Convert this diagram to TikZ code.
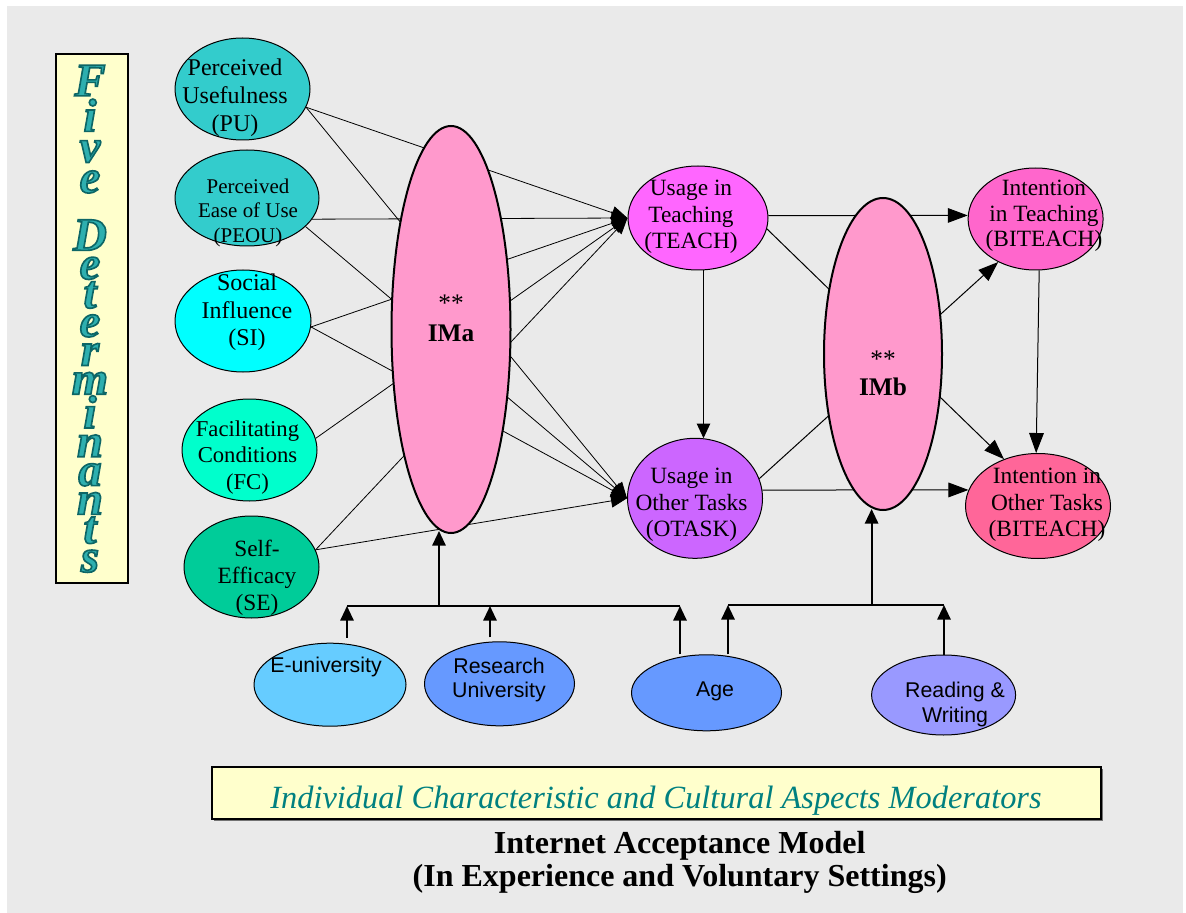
\documentclass[tikz,border=0pt]{standalone}
\usepackage{fontspec}
\setmainfont{Liberation Serif}
\newfontfamily\sansf{Liberation Sans}
\newfontfamily\wafont{Liberation Serif}[BoldItalicFeatures={FakeBold=3.5}]
\usetikzlibrary{shapes.geometric,arrows.meta,calc}
\definecolor{bgGray}{HTML}{EAEAEA}
\definecolor{paleYellow}{HTML}{FFFFCC}
\definecolor{cPU}{HTML}{33CCCC}
\definecolor{cSI}{HTML}{00FFFF}
\definecolor{cFC}{HTML}{00FFCC}
\definecolor{cSE}{HTML}{00CC99}
\definecolor{cIM}{HTML}{FF99CC}
\definecolor{cTEACH}{HTML}{FF66FF}
\definecolor{cOTASK}{HTML}{CC66FF}
\definecolor{cBIone}{HTML}{FF66CC}
\definecolor{cBItwo}{HTML}{FF6699}
\definecolor{cEuni}{HTML}{66CCFF}
\definecolor{cRes}{HTML}{6699FF}
\definecolor{cRead}{HTML}{9999FF}
\definecolor{waFill}{HTML}{2EAFAF}
\definecolor{tealText}{HTML}{008080}
\def\pxu{0.75pt}
% outlined letters: dark teal stroke around a teal fill
\newcommand\wl[1]{\special{pdf:literal direct 0.05 0.40 0.40 RG}#1}
\pgfdeclarelayer{back}
\pgfdeclarelayer{wires}
\pgfsetlayers{back,wires,main}
\begin{document}
\begin{tikzpicture}[x=0.75pt,y=-0.75pt,
  ell/.style 2 args={ellipse, draw, line width=0.75pt, inner sep=0pt,
    minimum width=#1*\pxu, minimum height=#2*\pxu},
  imell/.style 2 args={ell={#1}{#2}, line width=1.5pt, fill=cIM},
  dtxt/.style={align=center, inner sep=0pt},
  stxt/.style={align=center, inner sep=0pt, font=\fontsize{16}{18.3}\selectfont\sansf},
  wa/.style={inner sep=0pt, align=center, text=waFill,
    font=\fontsize{35}{21.6}\selectfont\wafont\bfseries\itshape},
  sarr/.style={line width=0.6pt, -{Triangle[length=12pt,width=10pt]}},
  barr/.style={line width=0.75pt, -{Triangle[length=15pt,width=11pt]}},
  marr/.style={line width=1.1pt, -{Triangle[length=11pt,width=10pt]}},
  modline/.style={line width=1.5pt},
  modarr/.style={line width=1.5pt, -{Triangle[length=11pt,width=10pt]}}]

\begin{pgfonlayer}{back}
  \fill[white] (0,0) rectangle (1186,913);
  \fill[bgGray] (7,6) rectangle (1183,913);
  \fill[black!55] (213.5,769) rectangle (1102.5,821);
\end{pgfonlayer}
\useasboundingbox (0,0) rectangle (1186,913);

% ---- side panel ----
\node[draw, line width=1.5pt, fill=paleYellow, inner sep=0pt,
  minimum width=72*\pxu, minimum height=529*\pxu] (FD) at (91.5,318.5) {};
\node[wa, anchor=north] (FDtxt) at (90,65)
  {\wl{F}\\[1.4pt]\wl{i}\\[1.4pt]\wl{v}\\[1.4pt]\wl{e}\\[18.9pt]%
   \wl{D}\\\wl{e}\\\wl{t}\\\wl{e}\\\wl{r}\\\wl{m}\\\wl{i}\\\wl{n}\\\wl{a}\\\wl{n}\\\wl{t}\\\wl{s}};

% ---- determinants ----
\node[ell={135}{102}, fill=cPU] (PU) at (242.5,89) {};
\node[dtxt, font=\fontsize{18}{21}\selectfont] (PUtxt) at (235,98) {Perceived\\Usefulness\\(PU)};
\node[ell={144}{96}, fill=cPU] (PEOU) at (247,198) {};
\node[dtxt, font=\fontsize{15.7}{18.4}\selectfont] (PEOUtxt) at (248,212.5) {Perceived\\Ease of Use\\(PEOU)};
\node[ell={136}{102}, fill=cSI] (SI) at (243,321) {};
\node[dtxt, font=\fontsize{18}{20.5}\selectfont] (SItxt) at (247,312.5) {Social\\Influence\\(SI)};
\node[ell={135}{102}, fill=cFC] (FC) at (249.5,450) {};
\node[dtxt, font=\fontsize{17}{20}\selectfont] (FCtxt) at (247.5,457.5) {Facilitating\\Conditions\\(FC)};
\node[ell={135}{102}, fill=cSE] (SE) at (251.5,567) {};
\node[dtxt, font=\fontsize{17.5}{20.3}\selectfont] (SEtxt) at (257,577.5) {Self-\\Efficacy\\(SE)};

% ---- mediators ----
\node[imell={119}{407}] (IMa) at (451,329.5) {};
\node[anchor=base, inner sep=0pt, font=\fontsize{19}{20}\selectfont] (IMastar) at (451,311) {**};
\node[anchor=base, inner sep=0pt, font=\fontsize{19}{21}\selectfont\bfseries] (IMalbl) at (451,341.5) {IMa};
\node[imell={118}{312}] (IMb) at (883,354) {};
\node[anchor=base, inner sep=0pt, font=\fontsize{19}{20}\selectfont] (IMbstar) at (883,367) {**};
\node[anchor=base, inner sep=0pt, font=\fontsize{19}{21}\selectfont\bfseries] (IMblbl) at (883,395) {IMb};

% ---- usage and intention ----
\node[ell={140}{104}, fill=cTEACH] (TEACH) at (698,218) {};
\node[dtxt, font=\fontsize{17.5}{19.8}\selectfont] (TEACHtxt) at (691,217) {Usage in\\Teaching\\(TEACH)};
\node[ell={135}{120}, fill=cOTASK] (OTASK) at (695,498.3) {};
\node[dtxt, font=\fontsize{17.5}{20}\selectfont] (OTASKtxt) at (691.5,505) {Usage in\\Other Tasks\\(OTASK)};
\node[ell={135}{102}, fill=cBIone] (BI1) at (1035.6,219) {};
\node[dtxt, font=\fontsize{17.5}{19.2}\selectfont] (BI1txt) at (1044,216) {Intention\\in Teaching\\(BITEACH)};
\node[ell={145}{105}, fill=cBItwo] (BI2) at (1038,506) {};
\node[dtxt, font=\fontsize{17.5}{20}\selectfont] (BI2txt) at (1047,505) {Intention in\\Other Tasks\\(BITEACH)};

% ---- moderators ----
\node[ell={152}{83}, fill=cEuni] (Euni) at (330,684.7) {};
\node[stxt] (Eunitxt) at (326,667) {E-university};
\node[ell={150}{84}, fill=cRes] (Rsch) at (499.5,683.8) {};
\node[stxt] (Rschtxt) at (499,680) {Research\\University};
\node[ell={150}{76}, fill=cRes] (Age) at (706.5,692.8) {};
\node[stxt] (Agetxt) at (715,691.7) {Age};
\node[ell={144}{80}, fill=cRead] (Read) at (943.6,695) {};
\node[stxt] (Readtxt) at (955,704.5) {Reading \&\\Writing};

% ---- captions ----
\node[draw, line width=1.5pt, fill=paleYellow, inner sep=0pt,
  minimum width=889*\pxu, minimum height=52*\pxu] (MODbox) at (656.25,793.3) {};
\node[anchor=base, inner sep=0pt, text=tealText,
  font=\fontsize{24.3}{28}\selectfont\itshape] (MODtxt) at (656,808)
  {Individual Characteristic and Cultural Aspects Moderators};
\node[anchor=base, inner sep=0pt, font=\fontsize{24}{28}\selectfont\bfseries] (title1) at (679.7,853) {Internet Acceptance Model};
\node[anchor=base, inner sep=0pt, font=\fontsize{24}{28}\selectfont\bfseries] (title2) at (679.7,886.7) {(In Experience and Voluntary Settings)};

% ---- connectors (under the nodes) ----
\begin{pgfonlayer}{wires}
  \draw[sarr] (PU.-16) -- (TEACH.west);
  \draw[sarr] (PU.-16) -- (OTASK.west);
  \draw[sarr] (PEOU.-18) -- (TEACH.west);
  \draw[sarr] (PEOU.-26) -- (OTASK.west);
  \draw[sarr] (SI.-5) -- (TEACH.west);
  \draw[sarr] (SI.-5) -- (OTASK.west);
  \draw[sarr] (FC.10) -- (TEACH.west);
  \draw[sarr] (SE.15) -- (TEACH.west);
  \draw[sarr] (SE.15) -- (OTASK.west);

  \draw[barr] (TEACH.2) -- (BI1.177);
  \draw[barr] (TEACH.-9) -- (BI2.126);
  \draw[barr] (OTASK.17) -- (BI1.229);
  \draw[barr] (OTASK.7) -- (BI2.167);
  \draw[barr] (BI1.-86) -- (BI2.92);
  \draw[marr] (TEACH.-84) -- (TEACH.-84 |- OTASK.82);

  \coordinate (mL1) at (347,606);
  \coordinate (mL3) at (490,606);
  \coordinate (mL2) at (680,606);
  \coordinate (mLj) at (439,606);
  \coordinate (mR1) at (728,605);
  \coordinate (mR2) at (944,605);
  \coordinate (mRj) at (871.6,605);
  \draw[modline] (mL1) -- (mL2);
  \draw[modline] (mR1) -- (mR2);
  \draw[modarr] (mLj) -- ($(mLj |- IMa.south)+(0,-3)$);
  \draw[modarr] (mRj) -- ($(mRj |- IMb.south)+(0,-2)$);
  \draw[modarr] ($(mL1 |- Euni.north)+(0,-5)$) -- (mL1);
  \draw[modarr] ($(mL3 |- Rsch.north)+(0,-4)$) -- (mL3);
  \draw[modarr] (mL2 |- Age.north) -- (mL2);
  \draw[modarr] (mR1 |- Age.north) -- (mR1);
  \draw[modarr] (mR2 |- Read.north) -- (mR2);
\end{pgfonlayer}
\end{tikzpicture}
\end{document}
